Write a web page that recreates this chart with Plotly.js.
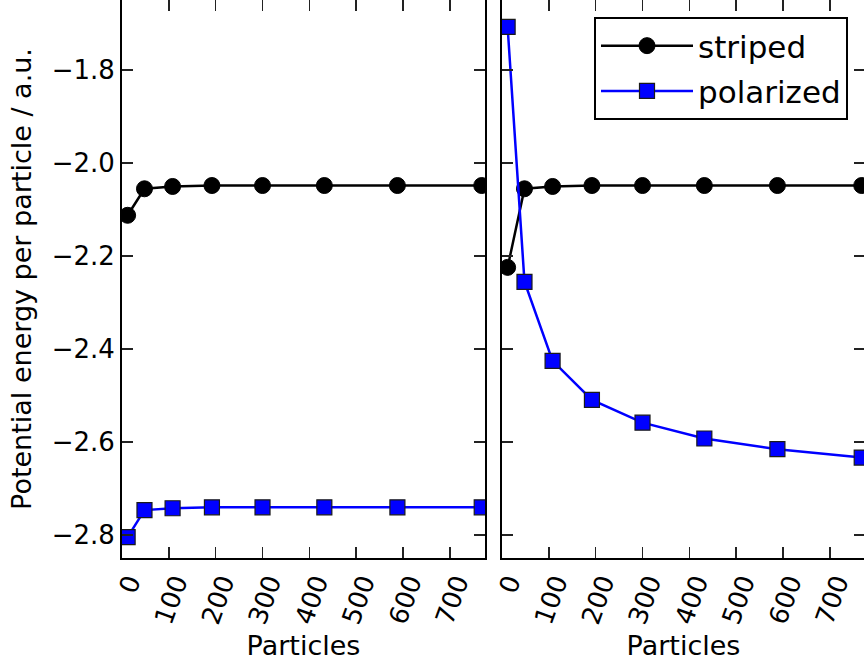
<!DOCTYPE html>
<html>
<head>
<meta charset="utf-8">
<script src="https://cdn.plot.ly/plotly-3.0.1.min.js"></script>
<style>
  html, body { margin: 0; padding: 0; overflow: hidden; background: #fff; }
  #chart { position: absolute; left: 0; top: 0; width: 870px; height: 661px; }
</style>
</head>
<body>
<div id="chart"></div>
<script>
// Data
const particles = [12, 48, 108, 192, 300, 432, 588, 768];

const stripedLeft    = [-2.113, -2.056, -2.051, -2.049, -2.049, -2.049, -2.049, -2.049];
const polarizedLeft  = [-2.805, -2.747, -2.743, -2.741, -2.741, -2.741, -2.741, -2.741];

const stripedRight   = [-2.225, -2.056, -2.051, -2.049, -2.049, -2.049, -2.049, -2.049];
const polarizedRight = [-1.708, -2.256, -2.426, -2.510, -2.559, -2.593, -2.616, -2.634];

const seriesNames = ["striped", "polarized"];
const xTickVals = [0, 100, 200, 300, 400, 500, 600, 700];
const yTickVals = [-2.8, -2.6, -2.4, -2.2, -2.0, -1.8];

const FONT = "DejaVu Sans, Liberation Sans, sans-serif";

function stripedTrace(y, xa, ya, show) {
  return {
    x: particles, y: y, xaxis: xa, yaxis: ya,
    type: "scatter", mode: "lines+markers", name: seriesNames[0],
    showlegend: show, legendgroup: "g1",
    line: { color: "#000000", width: 2.5 },
    marker: { symbol: "circle", size: 16, color: "#000000", line: { color: "#000000", width: 1 } }
  };
}
function polarizedTrace(y, xa, ya, show) {
  return {
    x: particles, y: y, xaxis: xa, yaxis: ya,
    type: "scatter", mode: "lines+markers", name: seriesNames[1],
    showlegend: show, legendgroup: "g2",
    line: { color: "#0000ff", width: 2.5 },
    marker: { symbol: "square", size: 15, color: "#0000ff", line: { color: "#1a1a1a", width: 1.2 } }
  };
}

const data = [
  stripedTrace(stripedLeft, "x", "y", false),
  polarizedTrace(polarizedLeft, "x", "y", false),
  stripedTrace(stripedRight, "x2", "y2", true),
  polarizedTrace(polarizedRight, "x2", "y2", true)
];

const W = 870, H = 661;
const mL = 122, mR = 5, mT = 0, mB = 103;
const plotW = W - mL - mR;
const panelW = 363;

const xCommon = {
  range: [0, 775], tickvals: xTickVals, ticktext: xTickVals.map(String),
  tickangle: -70, ticks: "inside", ticklen: 11, tickwidth: 1.5, tickcolor: "#222",
  showline: true, linecolor: "#000", linewidth: 2, mirror: "ticks",
  showgrid: false, zeroline: false, automargin: false,
  tickfont: { family: FONT, size: 26, color: "#000" },
  ticklabelshift: 7, ticklabelstandoff: -3,
  title: { text: "Particles", font: { family: FONT, size: 27, color: "#000" }, standoff: 14 }
};
const yCommon = {
  range: [-2.85, -1.65], tickvals: yTickVals, tickformat: ".1f",
  ticks: "inside", ticklen: 11, tickwidth: 1.5, tickcolor: "#222",
  showline: true, linecolor: "#000", linewidth: 2, mirror: "ticks",
  showgrid: false, zeroline: false, automargin: false,
  tickfont: { family: FONT, size: 26, color: "#000" }
};

const layout = {
  width: W, height: H,
  margin: { l: mL, r: mR, t: mT, b: mB, pad: 0 },
  paper_bgcolor: "#ffffff", plot_bgcolor: "#ffffff",
  font: { family: FONT, color: "#000" },
  showlegend: true,
  xaxis: Object.assign({}, xCommon, { domain: [0, panelW / plotW], anchor: "y" }),
  xaxis2: Object.assign({}, xCommon, { domain: [1 - panelW / plotW, 1], anchor: "y2" }),
  yaxis: Object.assign({}, yCommon, {
    anchor: "x",
    title: { text: "Potential energy per particle / a.u.", font: { family: FONT, size: 27, color: "#000" }, standoff: 12 }
  }),
  yaxis2: Object.assign({}, yCommon, { anchor: "x2", matches: "y", showticklabels: false }),
  legend: {
    x: (594 - mL) / plotW, y: 1 - 17 / (H - mT - mB),
    xanchor: "left", yanchor: "top",
    bgcolor: "#ffffff", bordercolor: "#000", borderwidth: 2,
    font: { family: FONT, size: 31, color: "#000" },
    itemwidth: 92, tracegroupgap: 2, traceorder: "grouped"
  }
};

Plotly.newPlot("chart", data, layout, { staticPlot: true, displayModeBar: false });
</script>
</body>
</html>
